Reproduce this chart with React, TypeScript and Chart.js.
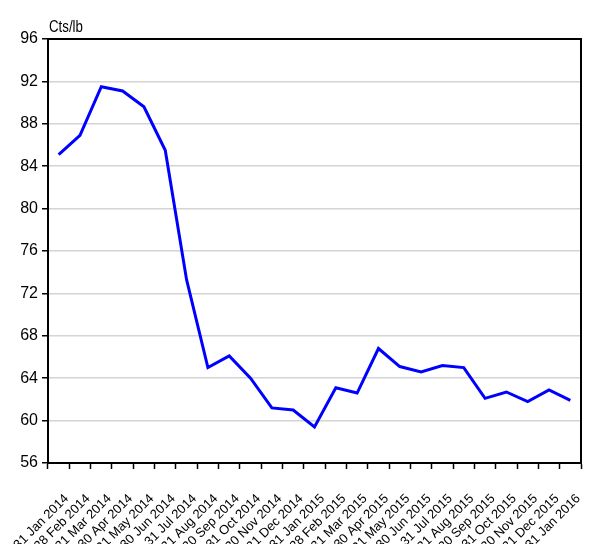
import React, { useEffect, useRef } from "react";
import { Chart, registerables } from "chart.js";

Chart.register(...registerables);

const dateLabels: string[] = [
  "31 Jan 2014", "28 Feb 2014", "31 Mar 2014", "30 Apr 2014", "31 May 2014",
  "30 Jun 2014", "31 Jul 2014", "31 Aug 2014", "30 Sep 2014", "31 Oct 2014",
  "30 Nov 2014", "31 Dec 2014", "31 Jan 2015", "28 Feb 2015", "31 Mar 2015",
  "30 Apr 2015", "31 May 2015", "30 Jun 2015", "31 Jul 2015", "31 Aug 2015",
  "30 Sep 2015", "31 Oct 2015", "30 Nov 2015", "31 Dec 2015", "31 Jan 2016",
];

const pricesCtsLb: number[] = [
  85.1, 86.9, 91.5, 91.1, 89.6, 85.5, 73.3, 65.0, 66.1, 64.0,
  61.2, 61.0, 59.4, 63.1, 62.6, 66.8, 65.1, 64.6, 65.2, 65.0,
  62.1, 62.7, 61.8, 62.9, 61.9,
];

const yMin = 56;
const yMax = 96;
const yStep = 4;
const unitLabel = "Cts/lb";

const FONT = "'Liberation Sans', Arial, Helvetica, sans-serif";

export default function App() {
  const ref = useRef<HTMLCanvasElement | null>(null);

  useEffect(() => {
    if (!ref.current) return;
    const boxPlugin = {
      id: "boxAndTitle",
      afterDraw(chart: any) {
        const { ctx, chartArea } = chart;
        ctx.save();
        ctx.strokeStyle = "#000";
        ctx.lineWidth = 2;
        ctx.strokeRect(
          chartArea.left,
          chartArea.top,
          chartArea.right - chartArea.left,
          chartArea.bottom - chartArea.top
        );
        ctx.fillStyle = "#000";
        ctx.font = `16px ${FONT}`;
        ctx.textAlign = "left";
        ctx.textBaseline = "alphabetic";
        ctx.translate(49, 32);
        ctx.scale(0.83, 1);
        ctx.fillText(unitLabel, 0, 0);
        ctx.restore();
      },
    };

    const chart = new Chart(ref.current, {
      type: "line",
      data: {
        labels: dateLabels,
        datasets: [
          {
            data: pricesCtsLb,
            borderColor: "#0000ff",
            backgroundColor: "#0000ff",
            borderWidth: 3,
            pointRadius: 0,
            tension: 0,
            fill: false,
          },
        ],
      },
      options: {
        animation: false,
        responsive: false,
        devicePixelRatio: 1,
        layout: { padding: { top: 39, right: 9, left: 0, bottom: 0 } },
        plugins: {
          legend: { display: false },
          tooltip: { enabled: false },
        },
        scales: {
          x: {
            type: "category",
            offset: true,
            grid: {
              display: true,
              drawOnChartArea: false,
              drawTicks: true,
              tickLength: 6,
              tickColor: "#000",
              tickWidth: 1.5,
              offset: true,
            },
            border: { display: true, color: "#000", width: 2 },
            ticks: {
              autoSkip: false,
              maxRotation: 45,
              minRotation: 45,
              padding: 22,
              labelOffset: 8,
              color: "#000",
              font: { family: FONT, size: 13 },
            },
            afterFit(scale: any) {
              scale.height = 81;
              scale.paddingLeft = 0;
              scale.paddingRight = 0;
            },
          },
          y: {
            min: yMin,
            max: yMax,
            grid: {
              color: "#d4d4d4",
              lineWidth: 1.5,
              drawTicks: true,
              tickLength: 6,
              tickColor: "#000",
              tickWidth: 1.5,
            },
            border: { display: true, color: "#000", width: 2 },
            ticks: {
              stepSize: yStep,
              padding: 4,
              color: "#000",
              font: { family: FONT, size: 16 },
            },
            afterFit(scale: any) {
              scale.width = 48;
              scale.paddingTop = 0;
              scale.paddingBottom = 0;
            },
          },
        },
      },
      plugins: [boxPlugin],
    } as any);

    return () => chart.destroy();
  }, []);

  return (
    <div style={{ position: "absolute", left: 0, top: 0, width: 590, height: 544, background: "#fff" }}>
      <canvas ref={ref} width={590} height={544} style={{ display: "block", width: 590, height: 544 }} />
    </div>
  );
}
